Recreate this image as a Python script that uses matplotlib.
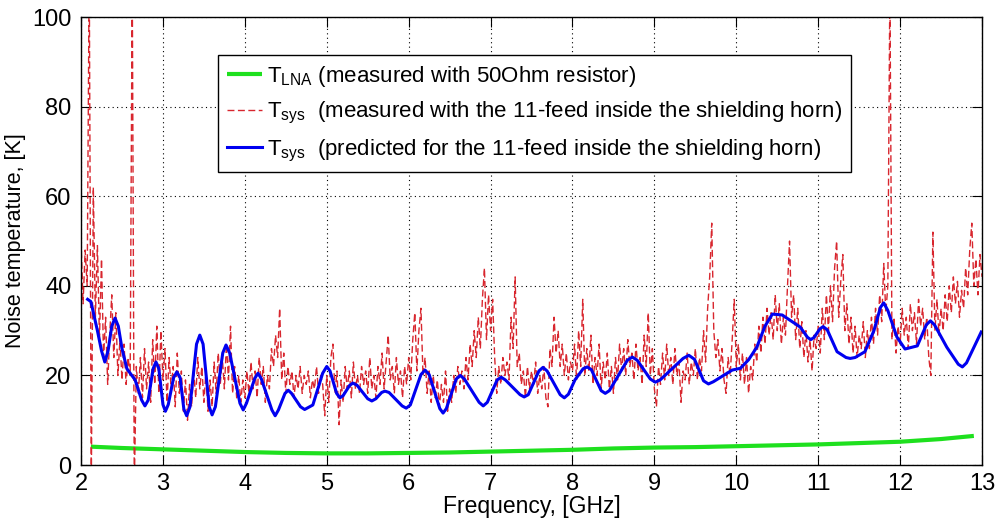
import matplotlib.pyplot as plt
import numpy as np

plt.rcParams['font.family'] = ['Liberation Sans', 'DejaVu Sans']
plt.rcParams['mathtext.fontset'] = 'custom'
plt.rcParams['mathtext.rm'] = 'Liberation Sans'
plt.rcParams['mathtext.it'] = 'Liberation Sans'

# LNA noise temperature (measured with 50 Ohm resistor)
f_lna = [2.12, 2.5, 3.0, 3.5, 4.0, 4.5, 5.0, 5.5, 6.0, 6.5, 7.0, 7.5, 8.0,
         8.5, 9.0, 9.5, 10.0, 10.5, 11.0, 11.5, 12.0, 12.5, 12.9]
t_lna = [4.1, 3.8, 3.5, 3.2, 2.9, 2.7, 2.6, 2.6, 2.7, 2.8, 3.0, 3.2, 3.4,
         3.7, 3.9, 4.0, 4.2, 4.4, 4.6, 4.9, 5.2, 5.8, 6.5]

# measured Tsys, one row per 0.5 GHz, 0.025 GHz steps from 2 to 13 GHz
t_meas = [
    50, 36, 48, 40, 112, -5, 62, 33, 49, 28, 46, 24, 33, 18, 29, 38, 24, 34, 20, 28,
    19, 27, 18, 24, 20, 110, -5, 22, 16, 24, 15, 26, 17, 23, 14, 28, 18, 31, 16, 30,
    19, 26, 14, 24, 17, 22, 13, 25, 16, 21, 12, 19, 10, 18, 13, 21, 15, 24, 17, 22,
    14, 21, 12, 19, 13, 23, 16, 25, 18, 24, 17, 27, 19, 31, 16, 22, 15, 20, 14, 19,
    15, 21, 16, 23, 17, 21, 15, 24, 18, 22, 14, 20, 17, 26, 22, 29, 24, 35, 19, 25,
    16, 22, 18, 21, 15, 20, 17, 22, 16, 20, 18, 21, 15, 19, 17, 22, 16, 20, 18, 11,
    20, 14, 24, 27, 16, 21, 9, 19, 14, 22, 17, 21, 15, 23, 17, 20, 16, 22, 18, 21,
    16, 24, 17, 20, 15, 22, 18, 25, 17, 23, 29, 19, 22, 16, 24, 18, 21, 15, 22, 18,
    24, 19, 28, 34, 21, 30, 35, 20, 24, 16, 21, 14, 20, 15, 19, 13, 18, 14, 21, 12,
    17, 14, 20, 16, 22, 18, 21, 17, 24, 19, 27, 22, 30, 24, 33, 26, 37, 44, 28, 38,
    30, 37, 24, 16, 22, 18, 24, 20, 23, 19, 33, 26, 42, 22, 25, 18, 21, 15, 22, 17,
    21, 18, 23, 16, 20, 17, 22, 15, 13, 26, 22, 33, 25, 30, 22, 27, 20, 25, 19, 23,
    21, 27, 19, 30, 22, 37, 20, 26, 21, 29, 18, 24, 20, 27, 17, 23, 19, 25, 17, 22,
    16, 24, 19, 27, 21, 26, 20, 28, 22, 25, 19, 27, 21, 24, 18, 29, 22, 34, 20, 26,
    17, 13, 22, 18, 25, 19, 27, 20, 24, 18, 26, 20, 23, 14, 21, 19, 25, 18, 23, 20,
    26, 19, 24, 21, 30, 23, 35, 42, 54, 30, 24, 28, 21, 26, 19, 16, 24, 20, 28, 37,
    22, 27, 19, 25, 18, 24, 16, 22, 19, 27, 23, 31, 25, 33, 27, 35, 29, 34, 28, 38,
    30, 36, 27, 33, 29, 40, 50, 33, 38, 28, 35, 26, 32, 24, 30, 23, 28, 21, 29, 26,
    31, 25, 35, 28, 38, 30, 40, 32, 44, 50, 33, 41, 47, 30, 36, 27, 33, 25, 31, 24,
    29, 26, 32, 24, 30, 26, 33, 27, 35, 29, 38, 32, 45, 34, 40, 108, 28, 33, 25, 31,
    27, 35, 29, 33, 26, 36, 30, 34, 27, 37, 31, 35, 28, 33, 24, 20, 52, 30, 37, 29,
    35, 30, 38, 32, 40, 34, 42, 36, 41, 33, 39, 35, 44, 38, 48, 54, 40, 46, 38, 47,
    42,
]
f_meas = np.linspace(2, 13, len(t_meas))

# predicted Tsys
f_pred = [2.08, 2.12, 2.2, 2.25, 2.29, 2.33, 2.375, 2.415, 2.455, 2.5, 2.56, 2.6, 2.66,
          2.74, 2.78, 2.82, 2.88, 2.915, 2.95, 3.0, 3.03, 3.065, 3.13, 3.17, 3.21,
          3.255, 3.29, 3.33, 3.41, 3.45, 3.49, 3.565, 3.6, 3.64, 3.73, 3.77, 3.815,
          3.94, 3.98, 4.02, 4.12, 4.16, 4.2, 4.33, 4.37, 4.41, 4.49, 4.53, 4.57,
          4.68, 4.73, 4.83, 4.95, 5.0, 5.04, 5.12, 5.16, 5.2, 5.28, 5.32, 5.37,
          5.5, 5.55, 5.6, 5.67, 5.71, 5.76, 5.92, 5.97, 6.02, 6.15, 6.2, 6.25,
          6.38, 6.42, 6.46, 6.58, 6.63, 6.68, 6.86, 6.91, 6.96, 7.08, 7.13, 7.18,
          7.36, 7.41, 7.46, 7.59, 7.64, 7.69, 7.85, 7.9, 7.95, 8.03, 8.13, 8.18,
          8.23, 8.35, 8.4, 8.45, 8.67, 8.73, 8.79, 8.95, 9.01, 9.07, 9.35, 9.42,
          9.49, 9.6, 9.66, 9.72, 9.95, 10.05, 10.15, 10.25, 10.35, 10.44, 10.56,
          10.78, 10.87, 10.91, 10.95, 11.02, 11.06, 11.11, 11.23, 11.34, 11.39,
          11.45, 11.57, 11.68, 11.76, 11.8, 11.85, 11.96, 12.06, 12.21, 12.32,
          12.37, 12.42, 12.57, 12.71, 12.76, 12.81, 12.99]
t_pred = [37, 36.5, 30, 25.5, 23, 25.5, 31, 32.8, 31, 26, 21.5, 20.5, 19,
          14.5, 13.2, 14.5, 21.5, 23, 21.5, 13.5, 12, 13.5, 19.5, 20.8, 19.5,
          12.5, 11, 13, 27, 29, 27, 13, 11.2, 13, 25, 26.8, 25,
          13.8, 12.3, 13.8, 19.3, 20.5, 19.3, 12.3, 11, 12.3, 16, 16.7, 16,
          13, 12.4, 13.4, 20.5, 22, 21, 16, 15, 15.5, 17.8, 18.3, 17.8,
          14.8, 14.3, 14.8, 16.2, 16.5, 16.2, 13.2, 12.7, 13.4, 20.2, 21.2, 20.2,
          12.6, 11.6, 12.6, 19.2, 20, 19.2, 14, 13.2, 14, 19, 19.6, 19,
          15.7, 15.2, 15.7, 21, 21.8, 21, 15.7, 15, 15.8, 19, 21.5, 21.9,
          21.3, 16.6, 16, 16.6, 23.4, 24.1, 23.4, 19.2, 18.5, 19, 23.8, 24.5,
          23.6, 18.8, 18.1, 18.6, 21.2, 21.6, 23.5, 26.3, 31, 33.7, 33.5,
          30.8, 28.5, 28, 28.5, 30.4, 30.9, 30.2, 25.3, 24, 23.8,
          24, 25.3, 30, 35.2, 36.2, 34.5, 28.6, 25.9, 26.6, 31.3,
          32.2, 31.3, 26.3, 22.5, 21.9, 22.8, 29.7]

fig = plt.figure(figsize=(9.98, 5.19), dpi=100)
ax = fig.add_axes([0.0812, 0.104, 0.9028, 0.863])

ax.plot(f_lna, t_lna, color='#1ee01e', lw=3, solid_capstyle='butt',
        label=r'T$_{\mathregular{LNA}}$ (measured with 50Ohm resistor)')
ax.plot(f_meas, t_meas, color='#d8262e', lw=1.0, dashes=(5, 2.5),
        label=r'T$_{\mathregular{sys}}$  (measured with the 11-feed inside the shielding horn)')
ax.plot(f_pred, t_pred, color='#0000f0', lw=2.2,
        label=r'T$_{\mathregular{sys}}$  (predicted for the 11-feed inside the shielding horn)')

ax.set_xlim(2, 13)
ax.set_ylim(0, 100)
ax.set_xticks(range(2, 14))
ax.set_yticks(range(0, 101, 20))
ax.grid(True, color='black', linestyle=(0, (1, 3)), lw=0.8)
ax.tick_params(direction='in', length=7, labelsize=17, top=True, right=True)
ax.tick_params(axis='x', pad=6)
ax.tick_params(axis='y', pad=7)
for s in ax.spines.values():
    s.set_linewidth(1.0)
ax.set_xlabel('Frequency, [GHz]', fontsize=16.5, labelpad=0)
ax.set_ylabel('Noise temperature, [K]', fontsize=15.5, labelpad=4)

leg = ax.legend(loc='upper left', bbox_to_anchor=(0.152, 0.915), fontsize=16,
                handlelength=1.6, handletextpad=0.2, labelspacing=0.5,
                borderaxespad=0, fancybox=False, framealpha=1,
                edgecolor='black', borderpad=0.4)
leg.get_frame().set_linewidth(1.0)

fig.savefig('out.png', dpi=100)
